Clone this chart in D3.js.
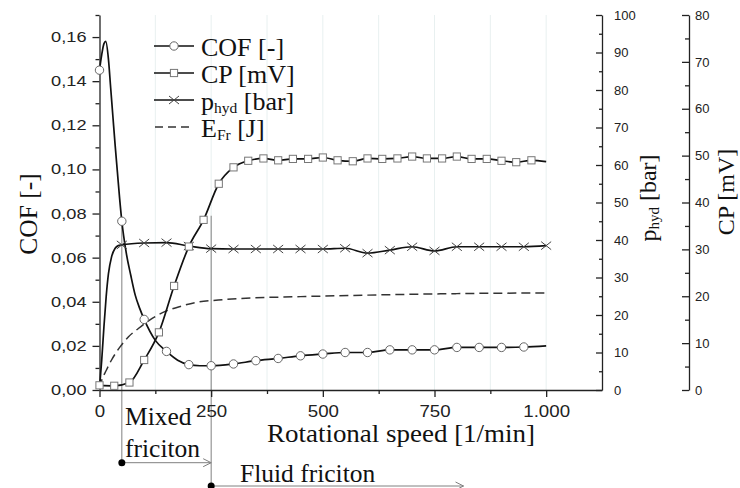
<!DOCTYPE html>
<html><head><meta charset="utf-8">
<script src="https://cdn.jsdelivr.net/npm/d3@7"></script>
<style>
html,body{margin:0;padding:0;background:#fff;}
svg{display:block;}
</style></head><body>
<svg id="chart" width="740" height="488"></svg>
<script>
// ---------- data ----------
const cofSpeed = [0,5,10,14,20,25,30,35,40,45,50,60,70,80,90,100,125,150,175,200,225,250,300,350,400,450,500,550,600,650,700,750,800,850,900,950,1000];
const cofValue = [0.145,0.152,0.157,0.158,0.150,0.137,0.124,0.111,0.099,0.087,0.0765,0.062,0.052,0.043,0.037,0.032,0.0225,0.0175,0.0135,0.0115,0.011,0.011,0.0118,0.0133,0.0143,0.0155,0.0163,0.017,0.017,0.0182,0.0182,0.0182,0.0193,0.0193,0.0193,0.0195,0.020];

const cpSpeed = [0,33,67,100,133,167,200,233,267,300,333,367,400,433,467,500,533,567,600,633,667,700,733,767,800,833,867,900,933,967,1000];
const cpValue = [1.0,0.9,1.6,6.4,12.3,22.2,30.6,36.3,44.0,47.5,48.9,49.4,49.0,49.3,49.3,49.6,49.0,48.8,49.4,49.3,49.4,49.8,49.4,49.4,49.8,49.3,49.3,48.9,48.6,49.0,48.7];

const pSpeed = [0,5,10,15,20,27,35,42,50,100,150,200,250,300,350,400,450,500,550,600,650,700,750,800,850,900,950,1000];
const pValue = [0.5,8,17,25,31,35.5,37.8,38.5,38.7,39.2,39.3,38.4,37.7,37.6,37.6,37.6,37.6,37.6,37.8,36.5,37.3,38.2,37.1,38.2,38.2,38.2,38.2,38.5];

const eSpeed = [0,5,15,27,46,65,87,113,150,184,214,266,315,450,600,800,1000];
const eValue = [0.5,2.6,5.2,8,11.5,14.2,16.4,18.7,21.1,22.4,23.3,24.0,24.4,24.9,25.3,25.7,25.9];

const cofTicks = [0,0.02,0.04,0.06,0.08,0.10,0.12,0.14,0.16];
const cofTickLabels = ["0,00","0,02","0,04","0,06","0,08","0,10","0,12","0,14","0,16"];
const cofMinor = [0.01,0.03,0.05,0.07,0.09,0.11,0.13,0.15,0.17];
const speedTicks = [0,250,500,750,1000];
const speedTickLabels = ["0","250","500","750","1.000"];
const speedMinor = [125,375,625,875];
const gridSpeeds = [125,250,375,500,625,750,875,1000];
const pTicks = [0,10,20,30,40,50,60,70,80,90,100];
const pMinor = [5,15,25,35,45,55,65,75,85,95];
const cpTicks = [0,10,20,30,40,50,60,70,80];
const cpMinor = [5,15,25,35,45,55,65,75];

// regime annotation
const regimeStart = [50, 250];
const regimeEnd = [250, 815];
const regimeTopCOF = [0.0765, 0.079];

// ---------- layout ----------
const svg = d3.select("#chart");
const X0 = 99.5, X1 = 602, YB = 390, YT = 15;
const x = d3.scaleLinear().domain([0,1125]).range([X0,X1]);
const yCOF = d3.scaleLinear().domain([0,0.17]).range([YB,YT]);
const yP = d3.scaleLinear().domain([0,100]).range([YB,YT]);
const yCP = d3.scaleLinear().domain([0,80]).range([YB,YT]);
const yE = yP;

const serif = "'Liberation Serif','Times New Roman',serif";
const sans = "'Liberation Sans',Arial,sans-serif";
const axisColor = "#222";

// grid
svg.append("g").selectAll("line").data(gridSpeeds).join("line")
  .attr("x1", d=>x(d)).attr("x2", d=>x(d)).attr("y1", YT).attr("y2", YB)
  .attr("stroke", "#e8f0f0").attr("stroke-width", 1);

// regime vertical lines
const annY1 = 462.7, annY2 = 486;
const annYs = [annY1, annY2];
svg.append("g").selectAll("line").data(regimeStart).join("line")
  .attr("x1", d=>x(d)).attr("x2", d=>x(d))
  .attr("y1", (d,i)=>yCOF(regimeTopCOF[i])).attr("y2", (d,i)=>annYs[i])
  .attr("stroke", "#808080").attr("stroke-width", 1);

// ---------- axes ----------
function styleAxis(g){
  g.selectAll(".domain").attr("stroke", axisColor).attr("stroke-width", 1.3);
  g.selectAll(".tick line").attr("stroke", axisColor).attr("stroke-width", 1.3);
  g.selectAll("text").attr("fill", "#222");
}
// left COF axis
const gL = svg.append("g").attr("transform", `translate(${X0},0)`)
  .call(d3.axisLeft(yCOF).tickValues(cofTicks).tickFormat((d,i)=>cofTickLabels[i]).tickSize(7).tickSizeOuter(0).tickPadding(6));
gL.selectAll("text").attr("font-family", sans).attr("font-size", 14)
  .attr("transform", function(){ const xx = +d3.select(this).attr("x"); return `translate(${xx},0) scale(1.3,1) translate(${-xx},0)`; });
styleAxis(gL);
const gLm = svg.append("g").attr("transform", `translate(${X0},0)`)
  .call(d3.axisLeft(yCOF).tickValues(cofMinor).tickFormat("").tickSize(4).tickSizeOuter(0));
gLm.select(".domain").remove(); styleAxis(gLm);

// bottom axis
const gB = svg.append("g").attr("transform", `translate(0,${YB})`)
  .call(d3.axisBottom(x).tickValues(speedTicks).tickFormat((d,i)=>speedTickLabels[i]).tickSize(7).tickSizeOuter(0).tickPadding(8));
gB.selectAll("text").attr("font-family", sans).attr("font-size", 17).attr("transform","scale(1.1,1)");
styleAxis(gB);
const gBm = svg.append("g").attr("transform", `translate(0,${YB})`)
  .call(d3.axisBottom(x).tickValues(speedMinor).tickFormat("").tickSize(4).tickSizeOuter(0));
gBm.select(".domain").remove(); styleAxis(gBm);

// right p_hyd axis
const gP = svg.append("g").attr("transform", `translate(${X1},0)`)
  .call(d3.axisRight(yP).tickValues(pTicks).tickSize(-6).tickSizeOuter(0).tickPadding(12));
gP.selectAll("text").attr("font-family", sans).attr("font-size", 13);
styleAxis(gP);
const gPm = svg.append("g").attr("transform", `translate(${X1},0)`)
  .call(d3.axisRight(yP).tickValues(pMinor).tickFormat("").tickSize(-3).tickSizeOuter(0));
gPm.select(".domain").remove(); styleAxis(gPm);

// right CP axis
const XCP = 689;
const gC = svg.append("g").attr("transform", `translate(${XCP},0)`)
  .call(d3.axisRight(yCP).tickValues(cpTicks).tickSize(-7).tickSizeOuter(0).tickPadding(6));
gC.selectAll("text").attr("font-family", sans).attr("font-size", 13);
styleAxis(gC);
const gCm = svg.append("g").attr("transform", `translate(${XCP},0)`)
  .call(d3.axisRight(yCP).tickValues(cpMinor).tickFormat("").tickSize(-4).tickSizeOuter(0));
gCm.select(".domain").remove(); styleAxis(gCm);

// ---------- series ----------
const curve = d3.curveMonotoneX;
const cofData = cofSpeed.map((s,i)=>[s,cofValue[i]]);
const cpData = cpSpeed.map((s,i)=>[s,cpValue[i]]);
const pData = pSpeed.map((s,i)=>[s,pValue[i]]);
const eData = eSpeed.map((s,i)=>[s,eValue[i]]);

const lineGen = (ys)=> d3.line().x(d=>x(d[0])).y(d=>ys(d[1])).curve(curve);

svg.append("path").datum(eData).attr("d", lineGen(yE))
  .attr("fill","none").attr("stroke","#333").attr("stroke-width",1.5).attr("stroke-dasharray","9,5");
svg.append("path").datum(cofData).attr("d", lineGen(yCOF))
  .attr("fill","none").attr("stroke","#111").attr("stroke-width",1.7);
svg.append("path").datum(pData).attr("d", lineGen(yP))
  .attr("fill","none").attr("stroke","#111").attr("stroke-width",1.7);
svg.append("path").datum(cpData).attr("d", lineGen(yCP))
  .attr("fill","none").attr("stroke","#111").attr("stroke-width",1.7);

// markers
function drawCircle(g, cx, cy){ g.append("circle").attr("cx",cx).attr("cy",cy).attr("r",4.2).attr("fill","#fff").attr("stroke","#666").attr("stroke-width",1); }
function drawSquare(g, cx, cy){ g.append("rect").attr("x",cx-3.6).attr("y",cy-3.6).attr("width",7.2).attr("height",7.2).attr("fill","#fff").attr("stroke","#777").attr("stroke-width",1); }
function drawCross(g, cx, cy){ g.append("path").attr("d",`M${cx-5},${cy-4}L${cx+5},${cy+4}M${cx-5},${cy+4}L${cx+5},${cy-4}`).attr("stroke","#444").attr("stroke-width",1); }

const gM = svg.append("g");
pData.filter(d=>d[0]>0 && d[0]%50===0).forEach(d=>drawCross(gM, x(d[0]), yP(d[1])));
cpData.filter(d=>d[0]<1000).forEach(d=>drawSquare(gM, x(d[0]), yCP(d[1])));
cofData.filter(d=>d[0]%50===0 && d[0]<1000).forEach(d=>drawCircle(gM, x(d[0]), yCOF(d[1])));

// ---------- legend ----------
const legendItems = [
  {name:"COF", sub:"", unit:" [-]", type:"circle"},
  {name:"CP", sub:"", unit:" [mV]", type:"square"},
  {name:"p", sub:"hyd", unit:" [bar]", type:"cross"},
  {name:"E", sub:"Fr", unit:" [J]", type:"dash"}
];
const legRows = [46, 73, 100, 127];
const gLeg = svg.append("g");
legendItems.forEach((it,i)=>{
  const yy = legRows[i];
  const ln = gLeg.append("line").attr("x1",154).attr("x2",194).attr("y1",yy).attr("y2",yy)
    .attr("stroke", it.type==="dash" ? "#333" : "#111").attr("stroke-width",1.6);
  if(it.type==="dash") ln.attr("stroke-dasharray","8,5").attr("x1",155);
  if(it.type==="circle") drawCircle(gLeg,174,yy);
  if(it.type==="square") drawSquare(gLeg,174,yy);
  if(it.type==="cross") drawCross(gLeg,174,yy);
  const t = gLeg.append("text").attr("x",201).attr("y",yy+9.5).attr("font-family",serif).attr("font-size",26).attr("fill","#111");
  t.append("tspan").text(it.name);
  if(it.sub){
    t.append("tspan").attr("font-size",15.5).attr("dy",3).text(it.sub);
    t.append("tspan").attr("dy",-3).text(it.unit);
  } else t.append("tspan").text(it.unit);
});

// ---------- axis titles ----------
svg.append("text").attr("transform","translate(37,214) rotate(-90)").attr("text-anchor","middle")
  .attr("font-family",serif).attr("font-size",25.5).attr("fill","#111").text("COF [-]");
const tp = svg.append("text").attr("transform","translate(656,198) rotate(-90)").attr("text-anchor","middle")
  .attr("font-family",serif).attr("font-size",24).attr("fill","#111");
tp.append("tspan").text("p");
tp.append("tspan").attr("font-size",15).attr("dy",3).text("hyd");
tp.append("tspan").attr("dy",-3).text(" [bar]");
svg.append("text").attr("transform","translate(734,192) rotate(-90)").attr("text-anchor","middle")
  .attr("font-family",serif).attr("font-size",24).attr("fill","#111").text("CP [mV]");
svg.append("text").attr("x",267).attr("y",442)
  .attr("font-family",serif).attr("font-size",24.5).attr("fill","#111")
  .attr("textLength",268).attr("lengthAdjust","spacingAndGlyphs").text("Rotational speed [1/min]");

// ---------- regime annotations ----------
const gA = svg.append("g");
regimeStart.forEach((s,i)=>{
  const yy = annYs[i];
  const xa = x(s), xb = x(regimeEnd[i]);
  gA.append("line").attr("x1",xa).attr("x2",xb).attr("y1",yy).attr("y2",yy).attr("stroke","#808080").attr("stroke-width",1);
  gA.append("path").attr("d",`M${xb-8},${yy-4}L${xb},${yy}L${xb-8},${yy+4}`).attr("fill","none").attr("stroke","#808080").attr("stroke-width",1);
  gA.append("circle").attr("cx",xa).attr("cy",yy).attr("r",3.5).attr("fill","#000");
});
gA.append("text").attr("x",125).attr("y",425).attr("font-family",serif).attr("font-size",25.5).attr("fill","#111").text("Mixed");
gA.append("text").attr("x",125).attr("y",456.7).attr("font-family",serif).attr("font-size",25.5).attr("fill","#111").text("friciton");
gA.append("text").attr("x",240).attr("y",481.7).attr("font-family",serif).attr("font-size",25.5).attr("fill","#111").text("Fluid friciton");
</script>
</body></html>
